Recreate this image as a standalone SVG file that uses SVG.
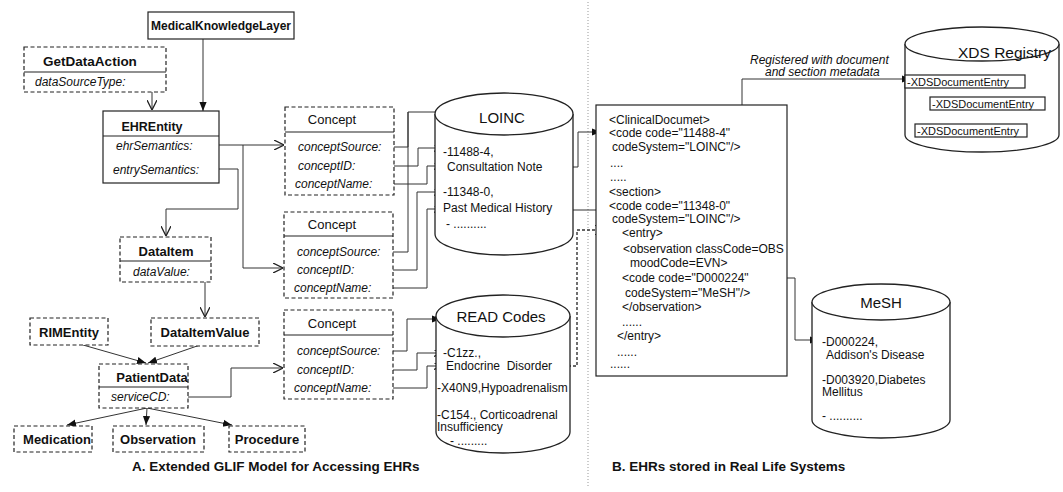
<svg xmlns="http://www.w3.org/2000/svg" width="1063" height="492" viewBox="0 0 1063 492">
  <style>
    text { font-family: "Liberation Sans", Arial, sans-serif; fill: #111; font-size: 12px; }
    .title { font-weight: bold; font-size: 13px; text-anchor: middle; }
    .ctitle { font-size: 13px; text-anchor: middle; }
    .attr { font-style: italic; font-size: 12px; }
    .cylname { font-size: 15px; text-anchor: middle; }
    .caption { font-weight: bold; font-size: 13.5px; }
    .entry { font-size: 11px; }
    .box { fill: #fff; stroke: #222; stroke-width: 1.2; }
    .dbox { fill: #fff; stroke: #222; stroke-width: 1.2; stroke-dasharray: 4 2.5; }
    .div { stroke: #222; stroke-width: 1.1; }
    .cyl { fill: #fff; stroke: #222; stroke-width: 1.3; }
    .ln { fill: none; stroke: #333; stroke-width: 1; }
    .dash { fill: none; stroke: #333; stroke-width: 1.4; stroke-dasharray: 3 2; }
    .open { marker-end: url(#open); }
    .small { marker-end: url(#small); }
    .solid { marker-end: url(#solid); }
  </style>
  <defs>
    <marker id="open" viewBox="0 0 10 10" refX="10" refY="5" markerWidth="10" markerHeight="10" markerUnits="userSpaceOnUse" orient="auto">
      <path d="M0,0 L10,5 L0,10" fill="none" stroke="#222" stroke-width="1.3"/>
    </marker>
    <marker id="small" viewBox="0 0 10 10" refX="10" refY="5" markerWidth="7" markerHeight="7" markerUnits="userSpaceOnUse" orient="auto">
      <path d="M0,0 L10,5 L0,10" fill="none" stroke="#222" stroke-width="1.8"/>
    </marker>
    <marker id="solid" viewBox="0 0 10 10" refX="10" refY="5" markerWidth="9" markerHeight="9" markerUnits="userSpaceOnUse" orient="auto">
      <path d="M0,1 L10,5 L0,9 z" fill="#111"/>
    </marker>
  </defs>

  <rect width="1063" height="492" fill="#fff"/>

  <!-- separator between the two halves -->
  <line x1="588" y1="2" x2="588" y2="488" stroke="#999" stroke-width="1" stroke-dasharray="1 2"/>

  <!-- connectors -->
  <g id="connectors">
    <path class="ln solid" d="M203,39 V111"/>
    <path class="ln open" d="M138,81 H152 V110"/>
    <path class="ln open" d="M203,145 H284"/>
    <path class="ln open" d="M243,145 V268 H283"/>
    <path class="ln open" d="M211,169 H238 V209 H166 V236"/>
    <path class="ln open" d="M195,271 H205 V317"/>
    <path class="ln solid" d="M83,345 L146,363"/>
    <path class="ln solid" d="M200,345 L148,363"/>
    <path class="ln solid" d="M147,408 L67,425"/>
    <path class="ln solid" d="M147,408 L146,425"/>
    <path class="ln solid" d="M147,408 L232,425"/>
    <path class="ln open" d="M188,397 H231 V368 H283"/>

    <!-- concept attributes into coding systems -->
    <path class="ln open" d="M383,147 H408 V112 H468"/>
    <path class="ln" d="M383,252 H408 V112"/>
    <path class="ln small" d="M357,166 H418 V148 H441"/>
    <path class="ln small" d="M374,184 H427 V166 H441"/>
    <path class="ln small" d="M357,270 H417 V192 H441"/>
    <path class="ln small" d="M374,288 H427 V209 H441"/>
    <path class="ln solid" d="M383,351 H407 V319 H441"/>
    <path class="ln small" d="M357,370 H417 V353 H441"/>
    <path class="ln small" d="M374,388 H427 V366 H441"/>

    <!-- codes into the clinical document -->
    <path class="ln solid" d="M543,167 H578 V132 H601"/>
    <path class="ln open" d="M550,210 H613"/>
    <path class="dash open" d="M553,366 H577 V230 H605"/>

    <!-- clinical document to registry and MeSH -->
    <path class="ln solid" d="M742,105 V79 H911"/>
    <path class="ln solid" d="M746,278 H795 V340 H819"/>
  </g>

  <!-- A. GLIF model -->
  <g id="medicalKnowledgeLayer">
    <rect class="box" x="148" y="12" width="146" height="27"/>
    <text x="221" y="30" class="title" style="font-size:12px">MedicalKnowledgeLayer</text>
  </g>

  <g id="getDataAction">
    <rect class="dbox" x="24" y="47" width="142" height="45"/>
    <line class="div" x1="24" y1="72" x2="166" y2="72"/>
    <text x="90" y="66" class="title" style="font-size:13.5px">GetDataAction</text>
    <text x="35" y="86" class="attr">dataSourceType:</text>
  </g>

  <g id="ehrEntity">
    <rect class="box" x="103" y="111" width="116" height="72"/>
    <line class="div" x1="103" y1="136" x2="219" y2="136"/>
    <text x="152" y="131" class="title" style="font-size:12.5px">EHREntity</text>
    <text x="116" y="150" class="attr">ehrSemantics:</text>
    <text x="113" y="174" class="attr">entrySemantics:</text>
  </g>

  <g id="dataItem">
    <rect class="dbox" x="120" y="237" width="91" height="45"/>
    <line class="div" x1="120" y1="261" x2="211" y2="261"/>
    <text x="166" y="256" class="title">DataItem</text>
    <text x="133" y="276" class="attr">dataValue:</text>
  </g>

  <g id="dataItemValue">
    <rect class="dbox" x="151" y="318" width="108" height="28"/>
    <text x="205" y="337" class="title">DataItemValue</text>
  </g>

  <g id="rimEntity">
    <rect class="dbox" x="30" y="318" width="78" height="27"/>
    <text x="69" y="337" class="title">RIMEntity</text>
  </g>

  <g id="patientData">
    <rect class="dbox" x="99" y="364" width="89" height="44"/>
    <line class="div" x1="99" y1="387" x2="188" y2="387"/>
    <text x="152" y="382" class="title">PatientData</text>
    <text x="111" y="401" class="attr">serviceCD:</text>
  </g>

  <g id="medication">
    <rect class="dbox" x="14" y="426" width="78" height="26"/>
    <text x="57" y="444" class="title">Medication</text>
  </g>

  <g id="observation">
    <rect class="dbox" x="113" y="426" width="91" height="26"/>
    <text x="158" y="444" class="title">Observation</text>
  </g>

  <g id="procedure">
    <rect class="dbox" x="229" y="426" width="76" height="26"/>
    <text x="267" y="444" class="title">Procedure</text>
  </g>

  <g id="concept1">
    <rect class="dbox" x="285" y="107" width="109" height="88"/>
    <line class="div" x1="285" y1="132" x2="394" y2="132"/>
    <text x="332" y="124" class="ctitle">Concept</text>
    <text x="298" y="151" class="attr">conceptSource:</text>
    <text x="298" y="170" class="attr">conceptID:</text>
    <text x="295" y="188" class="attr">conceptName:</text>
  </g>

  <g id="concept2">
    <rect class="dbox" x="284" y="212" width="109" height="86"/>
    <line class="div" x1="284" y1="236" x2="393" y2="236"/>
    <text x="332" y="229" class="ctitle">Concept</text>
    <text x="297" y="256" class="attr">conceptSource:</text>
    <text x="297" y="274" class="attr">conceptID:</text>
    <text x="294" y="292" class="attr">conceptName:</text>
  </g>

  <g id="concept3">
    <rect class="dbox" x="284" y="310" width="109" height="89"/>
    <line class="div" x1="284" y1="335" x2="393" y2="335"/>
    <text x="332" y="328" class="ctitle">Concept</text>
    <text x="297" y="355" class="attr">conceptSource:</text>
    <text x="297" y="374" class="attr">conceptID:</text>
    <text x="294" y="392" class="attr">conceptName:</text>
  </g>

  <g id="loinc">
    <path class="cyl" d="M435,114 V234 A69,21 0 0 0 573,234 V114"/>
    <ellipse class="cyl" cx="504" cy="114" rx="69" ry="21"/>
    <text x="502" y="123" class="cylname">LOINC</text>
    <text x="443" y="156">-11488-4,</text>
    <text x="447" y="171">Consultation Note</text>
    <text x="443" y="196">-11348-0,</text>
    <text x="443" y="212">Past Medical History</text>
    <text x="446" y="228">- ..........</text>
  </g>

  <g id="readCodes">
    <path class="cyl" d="M436,316 V432 A67,21 0 0 0 570,432 V316"/>
    <ellipse class="cyl" cx="503" cy="316" rx="67" ry="21"/>
    <text x="501" y="322" class="cylname">READ Codes</text>
    <text x="443" y="357">-C1zz.,</text>
    <text x="446" y="370" style="white-space:pre">Endocrine  Disorder</text>
    <text x="437" y="392">-X40N9,Hypoadrenalism</text>
    <text x="437" y="419">-C154., Corticoadrenal</text>
    <text x="437" y="431">Insufficiency</text>
    <text x="450" y="445">- .........</text>
  </g>

  <!-- B. stored records -->
  <g id="clinicalDocument">
    <rect class="box" x="596" y="105" width="191" height="271"/>
    <text x="609" y="124">&lt;ClinicalDocumet&gt;</text>
    <text x="609" y="137">&lt;code code="11488-4"</text>
    <text x="612" y="151">codeSystem="LOINC"/&gt;</text>
    <text x="610" y="167">....</text>
    <text x="610" y="181">.....</text>
    <text x="609" y="196">&lt;section&gt;</text>
    <text x="609" y="210">&lt;code code="11348-0"</text>
    <text x="612" y="223">codeSystem="LOINC"/&gt;</text>
    <text x="622" y="237">&lt;entry&gt;</text>
    <text x="623" y="253">&lt;observation classCode=OBS</text>
    <text x="630" y="267">moodCode=EVN&gt;</text>
    <text x="622" y="282">&lt;code code="D000224"</text>
    <text x="625" y="297">codeSystem="MeSH"/&gt;</text>
    <text x="622" y="311">&lt;/observation&gt;</text>
    <text x="622" y="326">......</text>
    <text x="617" y="340">&lt;/entry&gt;</text>
    <text x="617" y="356">......</text>
    <text x="610" y="368">......</text>
  </g>

  <g id="registeredLabel">
    <text x="750" y="64" class="attr">Registered with document</text>
    <text x="765" y="76" class="attr">and section metadata</text>
  </g>

  <g id="xdsRegistry">
    <path class="cyl" d="M905,44 V135 A77,17 0 0 0 1059,135 V44"/>
    <ellipse class="cyl" cx="982" cy="44" rx="77" ry="17"/>
    <text x="958" y="58" style="font-size:15.5px">XDS Registry</text>
    <rect class="box" x="905" y="75" width="120" height="13"/>
    <text x="907" y="86" class="entry">-XDSDocumentEntry</text>
    <rect class="box" x="930" y="97" width="115" height="13"/>
    <text x="932" y="108" class="entry">-XDSDocumentEntry</text>
    <rect class="box" x="915" y="124" width="112" height="13"/>
    <text x="917" y="135" class="entry">-XDSDocumentEntry</text>
  </g>

  <g id="mesh">
    <path class="cyl" d="M812,302 V420 A69,18 0 0 0 950,420 V302"/>
    <ellipse class="cyl" cx="881" cy="302" rx="69" ry="18"/>
    <text x="881" y="308" class="cylname">MeSH</text>
    <text x="822" y="346">-D000224,</text>
    <text x="826" y="359">Addison's Disease</text>
    <text x="822" y="384">-D003920,Diabetes</text>
    <text x="822" y="396">Mellitus</text>
    <text x="822" y="420">- ..........</text>
  </g>

  <!-- captions -->
  <text x="132" y="471" class="caption">A. Extended GLIF Model for Accessing EHRs</text>
  <text x="612" y="471" class="caption">B. EHRs stored in Real Life Systems</text>
</svg>
